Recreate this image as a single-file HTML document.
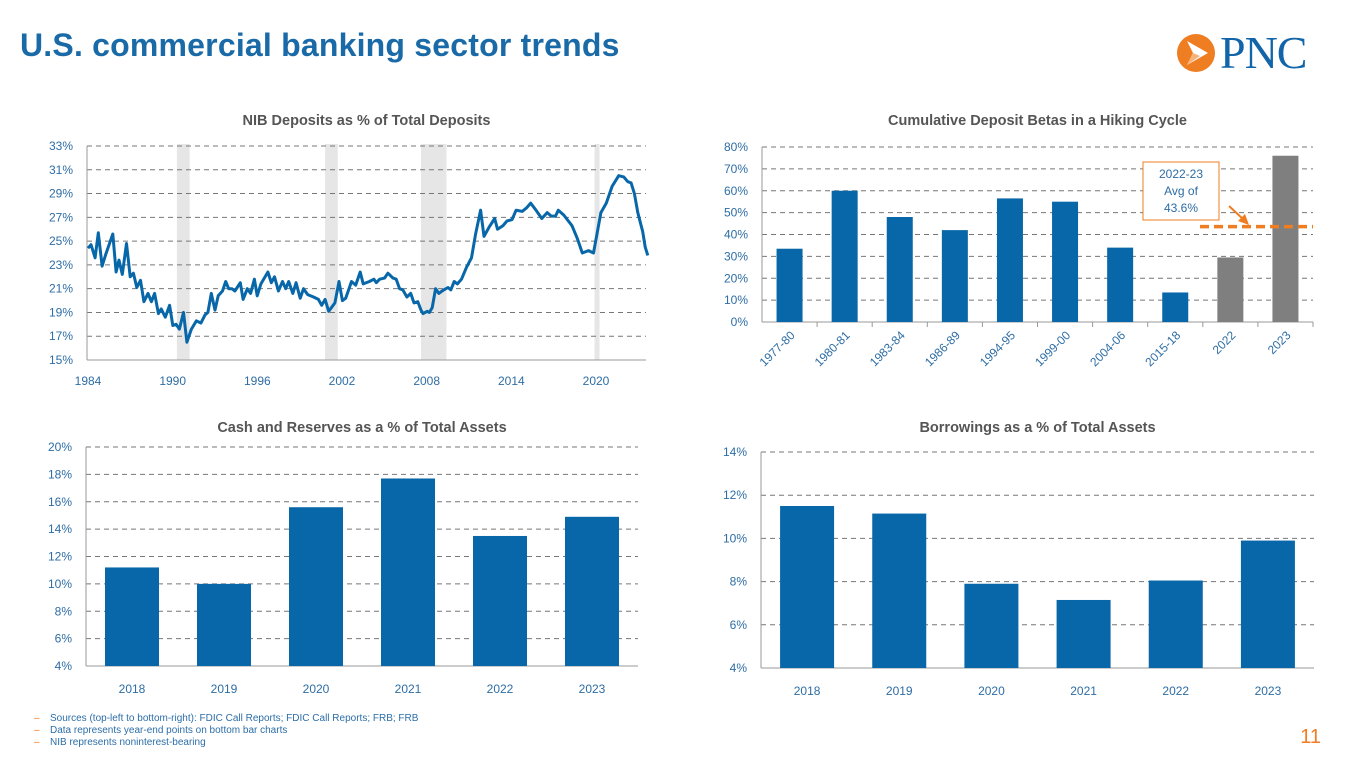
<!DOCTYPE html>
<html><head><meta charset="utf-8"><style>
body{margin:0;width:1365px;height:768px;background:#fff;font-family:"Liberation Sans",sans-serif;overflow:hidden;position:relative}
#title{position:absolute;left:20px;top:27px;font-size:32px;font-weight:bold;color:#1a6aa8;letter-spacing:0.2px}
.foot{position:absolute;left:34px;font-size:10px;color:#2c6ea8}
.foot span{color:#f07d23;display:inline-block;width:16px}
#pg{position:absolute;right:44px;top:726px;font-size:20px;color:#f07d23}
svg{position:absolute;left:0;top:0}
</style></head><body>
<div id="title">U.S. commercial banking sector trends</div>
<div id="logo" style="position:absolute;left:1176px;top:31px;width:160px;height:46px">
<svg width="160" height="46" style="position:absolute;left:0;top:0"><circle cx="20" cy="22" r="19" fill="#ef7d22"/><polygon points="11,10 32,22 11,34 17,22" fill="#fff"/><polygon points="17,22 11,34 24,25" fill="#f5b27a"/></svg>
<div style="position:absolute;left:44px;top:-1px;font-family:'Liberation Serif',serif;font-size:46px;color:#1265a8;line-height:46px;letter-spacing:-1px">PNC</div></div>
<svg id="chart" width="1365" height="768"></svg>
<div class="foot" style="top:713px"><span>–</span>Sources (top-left to bottom-right): FDIC Call Reports; FDIC Call Reports; FRB; FRB</div>
<div class="foot" style="top:725px"><span>–</span>Data represents year-end points on bottom bar charts</div>
<div class="foot" style="top:737px"><span>–</span>NIB represents noninterest-bearing</div>
<div id="pg">11</div>
<script>
const nibYears=[1984.00,1984.21,1984.50,1984.73,1985.00,1985.26,1985.76,1985.99,1986.20,1986.43,1986.73,1986.99,1987.22,1987.46,1987.72,1987.96,1988.25,1988.49,1988.72,1988.99,1989.19,1989.48,1989.78,1990.01,1990.24,1990.48,1990.77,1991.01,1991.33,1991.68,1992.00,1992.30,1992.50,1992.74,1993.00,1993.23,1993.53,1993.76,1993.97,1994.20,1994.41,1994.79,1994.99,1995.29,1995.52,1995.79,1995.99,1996.25,1996.75,1996.99,1997.22,1997.49,1997.78,1998.01,1998.22,1998.51,1998.75,1999.04,1999.27,1999.57,1999.98,2000.33,2000.56,2000.80,2001.06,2001.50,2001.79,2002.03,2002.26,2002.67,2002.97,2003.29,2003.50,2003.94,2004.26,2004.43,2004.67,2005.02,2005.25,2005.61,2005.84,2006.08,2006.31,2006.60,2006.87,2007.10,2007.37,2007.60,2007.75,2008.04,2008.19,2008.39,2008.63,2008.86,2009.21,2009.51,2009.71,2009.95,2010.18,2010.47,2010.82,2011.18,2011.47,2011.82,2012.06,2012.44,2012.82,2013.02,2013.40,2013.70,2014.05,2014.34,2014.78,2015.08,2015.37,2015.75,2016.16,2016.54,2016.83,2017.13,2017.33,2017.71,2018.30,2018.68,2019.03,2019.47,2019.82,2020.35,2020.73,2021.14,2021.61,2021.96,2022.25,2022.49,2022.72,2022.96,2023.31,2023.49,2023.67];
const nibValues=[24.4,24.7,23.6,25.7,22.9,23.9,25.6,22.4,23.4,22.2,24.8,22.0,22.3,21.1,21.7,19.9,20.6,19.9,20.6,18.9,19.3,18.6,19.6,17.9,18.0,17.6,19.0,16.5,17.6,18.3,18.1,18.8,19.0,20.6,19.2,20.4,20.8,21.6,21.0,21.0,20.8,21.5,20.1,21.0,20.6,21.8,20.4,21.4,22.4,21.5,22.0,20.8,21.6,21.0,21.6,20.6,21.5,20.2,21.0,20.5,20.3,20.1,19.6,20.1,19.1,19.8,21.6,20.0,20.2,21.6,21.3,22.4,21.4,21.6,21.8,21.5,21.8,21.9,22.3,21.9,21.8,21.0,20.9,20.3,20.6,19.8,19.9,19.2,18.9,19.1,19.0,19.4,21.0,20.6,20.9,21.1,20.9,21.6,21.4,21.8,22.8,23.6,25.6,27.6,25.4,26.2,26.9,26.0,26.3,26.7,26.8,27.6,27.5,27.8,28.2,27.6,26.9,27.4,27.1,27.1,27.6,27.2,26.3,25.2,24.0,24.2,24.0,27.4,28.2,29.6,30.5,30.4,30.0,29.9,29.0,27.4,25.8,24.5,23.8];
const recessionStart=[1990.3,2000.8,2007.6,2019.9];
const recessionEnd=[1991.2,2001.7,2009.4,2020.25];
const nibXTicks=[1984,1990,1996,2002,2008,2014,2020];
const nibYTicks=[15,17,19,21,23,25,27,29,31,33];
const betaCats=["1977-80","1980-81","1983-84","1986-89","1994-95","1999-00","2004-06","2015-18","2022","2023"];
const betaValues=[33.5,60,48,42,56.5,55,34,13.5,29.5,76];
const betaAvg=[43.6];
const betaYTicks=[0,10,20,30,40,50,60,70,80];
const yearCats=["2018","2019","2020","2021","2022","2023"];
const cashValues=[11.2,10.0,15.6,17.7,13.5,14.9];
const cashYTicks=[4,6,8,10,12,14,16,18,20];
const borrowValues=[11.5,11.15,7.9,7.15,8.05,9.9];
const borrowYTicks=[4,6,8,10,12,14];

const NS="http://www.w3.org/2000/svg";
const svg=document.getElementById('chart');
const BLUE="#0767a9",TICK="#2e6da4";
function mk(tag,attrs,parent){const e=document.createElementNS(NS,tag);for(const k in attrs)e.setAttribute(k,attrs[k]);(parent||svg).appendChild(e);return e;}
function txt(s,x,y,anchor,size,color,weight,parent){const t=mk('text',{x:x,y:y,'text-anchor':anchor,'font-size':size,fill:color,'font-family':'Liberation Sans, sans-serif','font-weight':weight||'normal'},parent);t.textContent=s;return t;}
function lin(d0,d1,r0,r1){return v=>r0+(v-d0)/(d1-d0)*(r1-r0);}

function frame(name,x0,x1,yT,yB,title,ticks,y,ty){
  const g=mk('g',{});
  
  
  const tt=txt(title,(x0+x1)/2,ty,'middle',14.5,'#555','bold',g);
  
  
  ticks.forEach(v=>{
    const gl=mk('line',{x1:x0,x2:x1,y1:y(v),y2:y(v),stroke:'#777','stroke-width':1,'stroke-dasharray':'5,4'},g);
    
    
    const lb=txt(v+'%',x0-14,y(v)+4,'end',12,TICK,'normal',g);
    
    
  });
  const ax=mk('line',{x1:x0,x2:x0,y1:yT,y2:yB,stroke:'#999'},g);
  
  
  const bx=mk('line',{x1:x0,x2:x1,y1:yB,y2:yB,stroke:'#999'},g);
  
  
  return g;
}

// NIB line chart
(function(){
  const x=lin(1984,2020,88,596), y=lin(15,33,360,146);
  const g=mk('g',{});
  
  
  recessionStart.forEach((s,i)=>{const r=mk('rect',{x:x(s),y:144,width:x(recessionEnd[i])-x(s),height:216,fill:'#e6e6e6'},g);
    
    });
  const f=frame('nib-chart',87,646,146,360,'NIB Deposits as % of Total Deposits',nibYTicks,y,125);
  nibXTicks.forEach(v=>{const t=txt(String(v),x(v),385,'middle',12,TICK,'normal',f);
    
    });
  const p=mk('polyline',{points:nibYears.map((yr,i)=>x(yr).toFixed(1)+','+y(nibValues[i]).toFixed(1)).join(' '),fill:'none',stroke:BLUE,'stroke-width':3,'stroke-linejoin':'round'});
  
  
})();

// Betas chart
(function(){
  const x0=762,x1=1313,bw=(x1-x0)/betaCats.length;
  const y=lin(0,80,322,147);
  const f=frame('betas-chart',x0,x1,147,322,'Cumulative Deposit Betas in a Hiking Cycle',betaYTicks,y,125);
  betaCats.forEach((c,i)=>{
    const cx=x0+bw*(i+0.5);
    const b=mk('rect',{x:cx-13,y:y(betaValues[i]),width:26,height:y(0)-y(betaValues[i]),fill:i>=8?'#7f7f7f':BLUE},f);
    
    
    const tk=mk('line',{x1:x0+bw*(i+1),x2:x0+bw*(i+1),y1:322,y2:327,stroke:'#999'},f);
    
    
    const t=txt(c,0,0,'end',12,TICK,'normal',f);
    t.setAttribute('transform','translate('+(cx+6)+',336) rotate(-45)');
    
    
  });
  const av=mk('line',{x1:1200,x2:1313,y1:y(betaAvg[0]),y2:y(betaAvg[0]),stroke:'#ef7d22','stroke-width':3.5,'stroke-dasharray':'9,5'},f);
  
  
  const box=mk('rect',{x:1143,y:162,width:76,height:58,fill:'#fff',stroke:'#ef7d22','stroke-width':1},f);
  
  
  ['2022-23','Avg of',betaAvg[0]+'%'].forEach((s,i)=>{const t=txt(s,1181,178+i*17,'middle',12,TICK,'normal',f);
    
    });
  const ar=mk('line',{x1:1229,y1:206,x2:1244,y2:220,stroke:'#ef7d22','stroke-width':2},f);
  
  
  const ah=mk('polygon',{points:'1249,225 1238,221 1245,214',fill:'#ef7d22'},f);
  
  
})();

function yearBars(name,title,vals,ticks,x0,x1,yT,yB,lo,hi){
  const y=lin(lo,hi,yB,yT), bw=(x1-x0)/yearCats.length;
  const f=frame(name,x0,x1,yT,yB,title,ticks,y,432);
  yearCats.forEach((c,i)=>{
    const cx=x0+bw*(i+0.5);
    const b=mk('rect',{x:cx-27,y:y(vals[i]),width:54,height:yB-y(vals[i]),fill:BLUE},f);
    
    
    const t=txt(c,cx,yB+27,'middle',12,TICK,'normal',f);
    
    
  });
}
yearBars('cash-chart','Cash and Reserves as a % of Total Assets',cashValues,cashYTicks,86,638,447,666,4,20);
yearBars('borrow-chart','Borrowings as a % of Total Assets',borrowValues,borrowYTicks,761,1314,452,668,4,14);
</script>
</body></html>
